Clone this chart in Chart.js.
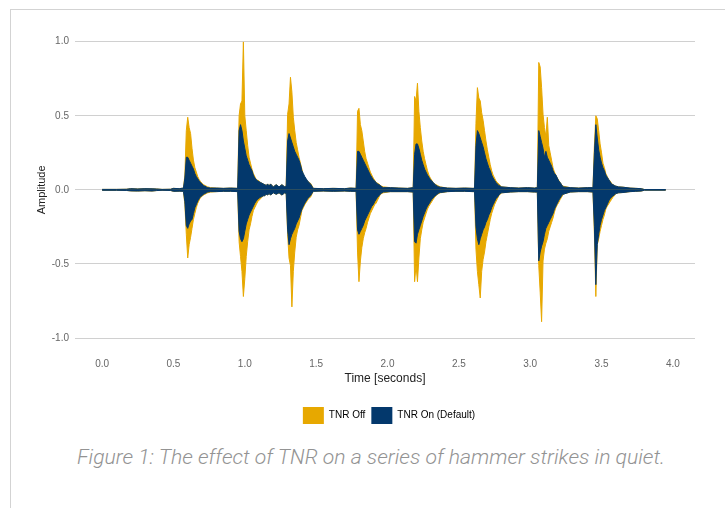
<!DOCTYPE html>
<html>
<head>
<meta charset="utf-8">
<script src="https://cdn.jsdelivr.net/npm/chart.js@4.4.1/dist/chart.umd.min.js"></script>
<style>
  html,body{margin:0;padding:0;background:#fff;}
  body{width:725px;height:508px;position:relative;overflow:hidden;}
  #frame{position:absolute;left:10px;top:9px;right:-2px;bottom:-2px;border-top:1px solid #d3d3d3;border-left:1px solid #d3d3d3;}
  #wrap{position:absolute;left:0;top:0;width:725px;height:440px;}
  #caption{position:absolute;left:77px;top:445px;white-space:nowrap;font-family:Roboto,"Open Sans",sans-serif;font-weight:300;font-style:italic;font-size:20px;color:#939393;transform-origin:0 0;}
</style>
</head>
<body>
<div id="frame"></div>
<div id="wrap"><canvas id="c" width="725" height="440"></canvas></div>
<div id="caption">Figure 1: The effect of TNR on a series of hammer strikes in quiet.</div>
<script>
// ---- Data (seconds, amplitude envelopes) ----
const time = [
  0.00,0.10,0.17,0.20,0.25,0.30,0.35,0.38,0.42,0.48,0.50,0.54,0.57,
  0.58,0.59,0.60,0.61,0.62,0.63,0.64,0.65,0.66,0.67,0.68,0.69,0.70,0.71,0.72,0.73,0.74,0.76,0.80,0.85,0.90,0.95,
  0.96,0.97,0.98,0.99,1.00,1.01,1.02,1.03,1.04,1.05,1.06,1.07,1.08,1.09,1.10,1.11,1.12,1.13,
  1.14,1.15,1.16,1.17,1.18,1.20,1.22,1.24,1.26,1.28,1.29,
  1.30,1.31,1.32,1.33,1.34,1.35,1.36,1.37,1.38,1.39,1.40,1.41,1.42,1.43,1.44,1.45,1.46,1.47,1.48,
  1.55,1.62,1.70,1.74,1.78,
  1.79,1.80,1.81,1.82,1.83,1.84,1.85,1.86,1.87,1.88,1.89,1.90,1.91,1.92,1.93,1.94,1.95,1.96,1.97,
  2.02,2.08,2.14,2.18,
  2.19,2.20,2.21,2.22,2.23,2.24,2.25,2.26,2.27,2.28,2.29,2.30,2.31,2.32,2.33,2.34,2.35,2.36,2.37,
  2.42,2.48,2.54,2.60,2.61,
  2.62,2.63,2.64,2.65,2.66,2.67,2.68,2.69,2.70,2.71,2.72,2.73,2.74,2.75,2.76,2.77,2.78,2.79,2.80,
  2.86,2.92,2.98,3.03,3.05,
  3.06,3.07,3.08,3.09,3.10,3.11,3.12,3.13,3.14,3.15,3.16,3.17,3.18,3.19,3.20,3.21,3.22,3.23,
  3.28,3.34,3.40,3.44,
  3.45,3.46,3.47,3.48,3.49,3.50,3.51,3.52,3.53,3.54,3.55,3.56,3.57,3.58,3.59,3.60,
  3.62,3.65,3.70,3.74,3.78,3.80,3.95
];
const tnrOffUpper = [
  .003,.003,.004,.008,.006,.008,.007,.006,.003,.004,.010,.008,.012,
  .10,.40,.49,.42,.38,.28,.20,.15,.12,.09,.07,.055,.045,.035,.03,.025,.02,.015,.012,.01,.012,.01,
  .50,.58,.60,1.00,.50,.40,.30,.22,.18,.14,.11,.09,.07,.065,.06,.05,.045,.04,
  .035,.03,.04,.025,.04,.02,.035,.02,.035,.02,.03,
  .51,.58,.76,.66,.49,.40,.32,.27,.22,.18,.14,.10,.085,.07,.06,.05,.045,.03,.01,
  .008,.01,.008,.012,.01,
  .53,.55,.44,.40,.33,.26,.21,.18,.15,.12,.10,.08,.065,.05,.045,.04,.03,.025,.02,
  .015,.012,.01,.015,
  .63,.60,.72,.53,.42,.33,.26,.21,.17,.13,.10,.08,.065,.05,.04,.035,.03,.025,.02,
  .012,.01,.012,.01,.012,
  .45,.69,.62,.60,.52,.47,.40,.33,.27,.22,.17,.13,.10,.08,.06,.05,.04,.03,.02,
  .015,.012,.015,.012,.015,
  .86,.83,.69,.51,.42,.36,.49,.30,.25,.20,.15,.12,.10,.08,.065,.05,.035,.025,
  .015,.012,.015,.015,
  .30,.50,.48,.40,.31,.25,.18,.15,.11,.09,.07,.06,.045,.035,.03,.025,
  .02,.018,.012,.01,.008,.002,.002
];
const tnrOffLower = [
  -.003,-.003,-.004,-.007,-.008,-.006,-.008,-.005,-.003,-.004,-.010,-.009,-.010,
  -.10,-.30,-.46,-.37,-.32,-.26,-.20,-.16,-.12,-.09,-.07,-.05,-.045,-.035,-.03,-.025,-.02,-.015,-.012,-.01,-.01,-.012,
  -.35,-.45,-.55,-.72,-.60,-.45,-.35,-.27,-.23,-.18,-.14,-.12,-.10,-.08,-.07,-.06,-.05,-.04,
  -.04,-.03,-.035,-.025,-.035,-.02,-.03,-.02,-.035,-.02,-.025,
  -.30,-.46,-.51,-.79,-.55,-.42,-.32,-.27,-.24,-.19,-.14,-.12,-.10,-.085,-.07,-.055,-.05,-.03,-.01,
  -.008,-.01,-.008,-.01,-.01,
  -.42,-.62,-.48,-.39,-.33,-.29,-.26,-.22,-.19,-.16,-.14,-.12,-.10,-.09,-.07,-.05,-.03,-.025,-.02,
  -.012,-.012,-.012,-.015,
  -.62,-.51,-.62,-.46,-.33,-.27,-.22,-.19,-.16,-.13,-.11,-.095,-.08,-.065,-.05,-.04,-.03,-.025,-.02,
  -.012,-.01,-.01,-.012,-.012,
  -.40,-.55,-.64,-.73,-.55,-.47,-.42,-.35,-.30,-.25,-.20,-.16,-.13,-.10,-.08,-.06,-.04,-.03,-.02,
  -.015,-.012,-.012,-.015,-.015,
  -.51,-.69,-.89,-.48,-.40,-.36,-.33,-.28,-.25,-.22,-.19,-.15,-.12,-.10,-.085,-.065,-.05,-.03,
  -.015,-.012,-.012,-.015,
  -.30,-.72,-.37,-.33,-.28,-.24,-.20,-.17,-.13,-.11,-.095,-.08,-.065,-.05,-.04,-.025,
  -.02,-.018,-.012,-.01,-.008,-.002,-.002
];
const tnrOnUpper = [
  .003,.003,.004,.008,.006,.008,.007,.006,.003,.004,.010,.008,.012,
  .08,.22,.22,.20,.18,.16,.14,.11,.09,.075,.06,.05,.04,.03,.025,.02,.015,.012,.012,.01,.012,.01,
  .40,.44,.40,.33,.28,.23,.20,.17,.15,.13,.10,.08,.07,.06,.055,.05,.045,.04,
  .035,.03,.04,.025,.04,.02,.035,.02,.035,.02,.03,
  .33,.38,.35,.32,.29,.26,.24,.22,.20,.17,.13,.11,.09,.075,.06,.05,.04,.025,.01,
  .008,.01,.008,.012,.01,
  .26,.26,.24,.22,.20,.18,.16,.14,.12,.10,.085,.07,.06,.05,.04,.035,.03,.02,.015,
  .015,.012,.01,.015,
  .24,.31,.31,.28,.24,.20,.17,.14,.12,.10,.085,.07,.06,.05,.04,.03,.025,.02,.018,
  .012,.01,.012,.01,.012,
  .30,.40,.38,.35,.32,.29,.25,.21,.18,.15,.13,.10,.08,.065,.05,.04,.03,.025,.02,
  .015,.012,.015,.012,.015,
  .40,.36,.32,.28,.22,.26,.22,.20,.18,.16,.13,.11,.10,.08,.06,.05,.035,.02,
  .015,.012,.015,.015,
  .25,.44,.35,.27,.22,.18,.15,.13,.10,.085,.07,.055,.04,.035,.03,.025,
  .02,.018,.012,.01,.008,.002,.002
];
const tnrOnLower = [
  -.003,-.003,-.004,-.007,-.008,-.006,-.008,-.005,-.003,-.004,-.010,-.009,-.010,
  -.08,-.24,-.26,-.23,-.21,-.20,-.16,-.12,-.10,-.075,-.06,-.045,-.04,-.03,-.025,-.02,-.015,-.012,-.012,-.01,-.01,-.012,
  -.28,-.33,-.35,-.33,-.28,-.23,-.20,-.17,-.15,-.13,-.11,-.09,-.075,-.065,-.055,-.05,-.045,-.04,
  -.04,-.03,-.035,-.025,-.035,-.02,-.03,-.02,-.035,-.02,-.025,
  -.27,-.37,-.33,-.30,-.28,-.26,-.23,-.21,-.19,-.16,-.13,-.11,-.09,-.075,-.06,-.05,-.04,-.025,-.01,
  -.008,-.01,-.008,-.01,-.01,
  -.27,-.30,-.28,-.26,-.24,-.21,-.19,-.17,-.15,-.13,-.11,-.10,-.08,-.065,-.05,-.04,-.03,-.02,-.015,
  -.012,-.012,-.012,-.015,
  -.35,-.36,-.30,-.27,-.24,-.21,-.18,-.155,-.13,-.11,-.095,-.08,-.065,-.055,-.045,-.035,-.03,-.02,-.018,
  -.012,-.01,-.01,-.012,-.012,
  -.25,-.33,-.37,-.33,-.30,-.27,-.25,-.22,-.20,-.17,-.15,-.12,-.10,-.08,-.06,-.05,-.035,-.025,-.02,
  -.015,-.012,-.012,-.015,-.015,
  -.48,-.42,-.38,-.35,-.30,-.26,-.24,-.22,-.20,-.18,-.16,-.13,-.11,-.09,-.07,-.055,-.04,-.03,
  -.015,-.012,-.012,-.015,
  -.25,-.64,-.37,-.30,-.24,-.20,-.17,-.14,-.12,-.10,-.075,-.06,-.05,-.04,-.035,-.025,
  -.02,-.018,-.012,-.01,-.008,-.002,-.002
];
const xTickValues = [0,0.5,1,1.5,2,2.5,3,3.5,4];
const yTickValues = [-1,-0.5,0,0.5,1];
const seriesNames = ['TNR Off','TNR On (Default)'];

const ORANGE = '#E7A800';
const BLUE = '#03386C';
const FONT = '"Liberation Sans", Arial, sans-serif';

function pts(xs, ys){ return xs.map((x,i)=>({x:x,y:ys[i]})); }
function env(label, xs, ys, color, order){
  return {label:label, data:pts(xs,ys), fill:'origin', backgroundColor:color, borderColor:color,
          borderWidth:1, pointRadius:0, pointHoverRadius:0, tension:0, order:order};
}

// center the legend under the plot area like the reference
const legendShift = {
  id:'legendShift',
  afterLayout(chart){
    const lg = chart.legend; if(!lg) return;
    const target = 389;
    const d = target - (lg.left + lg.right)/2;
    lg.left += d; lg.right += d;
  }
};

new Chart(document.getElementById('c'), {
  type:'line',
  data:{datasets:[
    env(seriesNames[0], time, tnrOffUpper, ORANGE, 2),
    env(seriesNames[0]+' lower', time, tnrOffLower, ORANGE, 2),
    env(seriesNames[1], time, tnrOnUpper, BLUE, 1),
    env(seriesNames[1]+' lower', time, tnrOnLower, BLUE, 1)
  ]},
  plugins:[legendShift],
  options:{
    responsive:false, animation:false, events:[],
    layout:{padding:{left:0,right:30,top:41.7,bottom:6}},
    plugins:{
      tooltip:{enabled:false},
      legend:{
        position:'bottom',
        labels:{
          boxWidth:21, boxHeight:17, padding:6,
          font:{family:FONT, size:10}, color:'#333',
          generateLabels:()=>[
            {text:seriesNames[0], fillStyle:ORANGE, strokeStyle:ORANGE, lineWidth:0, hidden:false, datasetIndex:0},
            {text:seriesNames[1], fillStyle:BLUE, strokeStyle:BLUE, lineWidth:0, hidden:false, datasetIndex:2}
          ]
        }
      }
    },
    scales:{
      x:{
        type:'linear', min:-0.19, max:4.155,
        afterBuildTicks:s=>{ s.ticks = xTickValues.map(v=>({value:v})); },
        afterFit:s=>{ s.height = 63; },
        grid:{display:false, drawTicks:false, tickLength:0},
        border:{display:false},
        ticks:{padding:20, maxRotation:0, autoSkip:false, color:'#666',
               font:{family:FONT, size:10},
               callback:v=>Number(v).toFixed(1)},
        title:{display:true, text:'Time [seconds]', color:'#222', padding:{top:0,bottom:15},
               font:{family:FONT, size:12}}
      },
      y:{
        min:-1, max:1,
        afterBuildTicks:s=>{ s.ticks = yTickValues.map(v=>({value:v})); },
        afterFit:s=>{ s.width = 75; },
        grid:{color:'#d0d0d0', lineWidth:1, drawTicks:false, tickLength:0},
        border:{display:false},
        ticks:{padding:6, color:'#666',
               font:{family:FONT, size:10},
               callback:v=>Number(v).toFixed(1)},
        title:{display:true, text:'Amplitude', color:'#222', padding:{top:35.4,bottom:0},
               font:{family:FONT, size:11}}
      }
    }
  }
});

const cap = document.getElementById('caption');
const w = cap.getBoundingClientRect().width;
cap.style.transform = 'scaleX(' + (588 / w) + ')';
</script>
</body>
</html>
